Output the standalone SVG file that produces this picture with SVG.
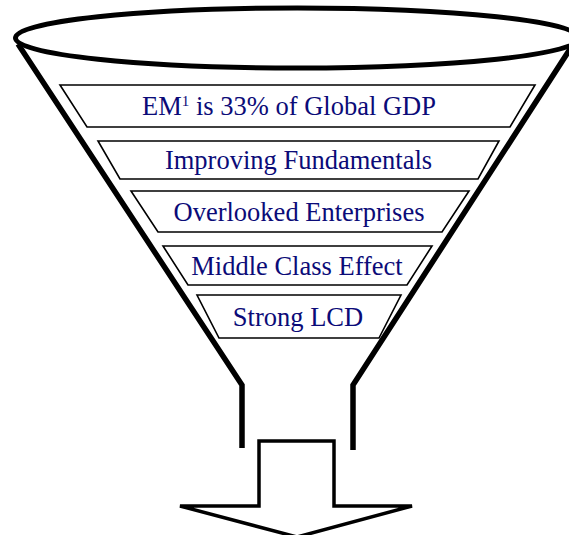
<svg xmlns="http://www.w3.org/2000/svg" width="569" height="535" viewBox="0 0 569 535">
  <style>
    .funnel { fill: none; stroke: #000; stroke-width: 5.5; stroke-linejoin: miter; }
    .band { fill: #fff; stroke: #000; stroke-width: 1.6; }
    .label { font-family: 'Liberation Serif', 'Times New Roman', Times, 'DejaVu Serif', serif; font-size: 26.5px; fill: #0b0b78; text-anchor: middle; }
    .arrow { fill: #fff; stroke: #000; stroke-width: 3.5; stroke-linejoin: miter; }
  </style>
  <rect width="569" height="535" fill="#fff"/>
  <g id="funnel">
    <polyline class="funnel" points="18,44 242,385 242,448"/>
    <polyline class="funnel" points="572,46 353,385 353,450"/>
    <ellipse cx="297.5" cy="38" rx="282" ry="30" fill="#fff" stroke="#000" stroke-width="5"/>
  </g>
  <g id="band1">
    <polygon class="band" points="60,85 535,85 510,127 87,127"/>
    <text class="label" x="289" y="115" font-family="Liberation Serif, serif">EM<tspan font-size="15" dy="-9">1</tspan><tspan dy="9"> is 33% of Global GDP</tspan></text>
  </g>
  <g id="band2">
    <polygon class="band" points="98,141 499,141 478,179 120,179"/>
    <text class="label" x="298.5" y="169" font-family="Liberation Serif, serif">Improving Fundamentals</text>
  </g>
  <g id="band3">
    <polygon class="band" points="131,191 469,191 442,232 158,232"/>
    <text class="label" x="299" y="221" font-family="Liberation Serif, serif">Overlooked Enterprises</text>
  </g>
  <g id="band4">
    <polygon class="band" points="163,246 432,246 407,285 188,285"/>
    <text class="label" x="297" y="275" font-family="Liberation Serif, serif">Middle Class Effect</text>
  </g>
  <g id="band5">
    <polygon class="band" points="197,295 401,295 379,338 219,338"/>
    <text class="label" x="298" y="326" font-family="Liberation Serif, serif">Strong LCD</text>
  </g>
  <g id="connectors">
    <polygon class="arrow" points="259,441 334,441 334,506 412,506 297,537 180,506 259,506"/>
  </g>
</svg>
